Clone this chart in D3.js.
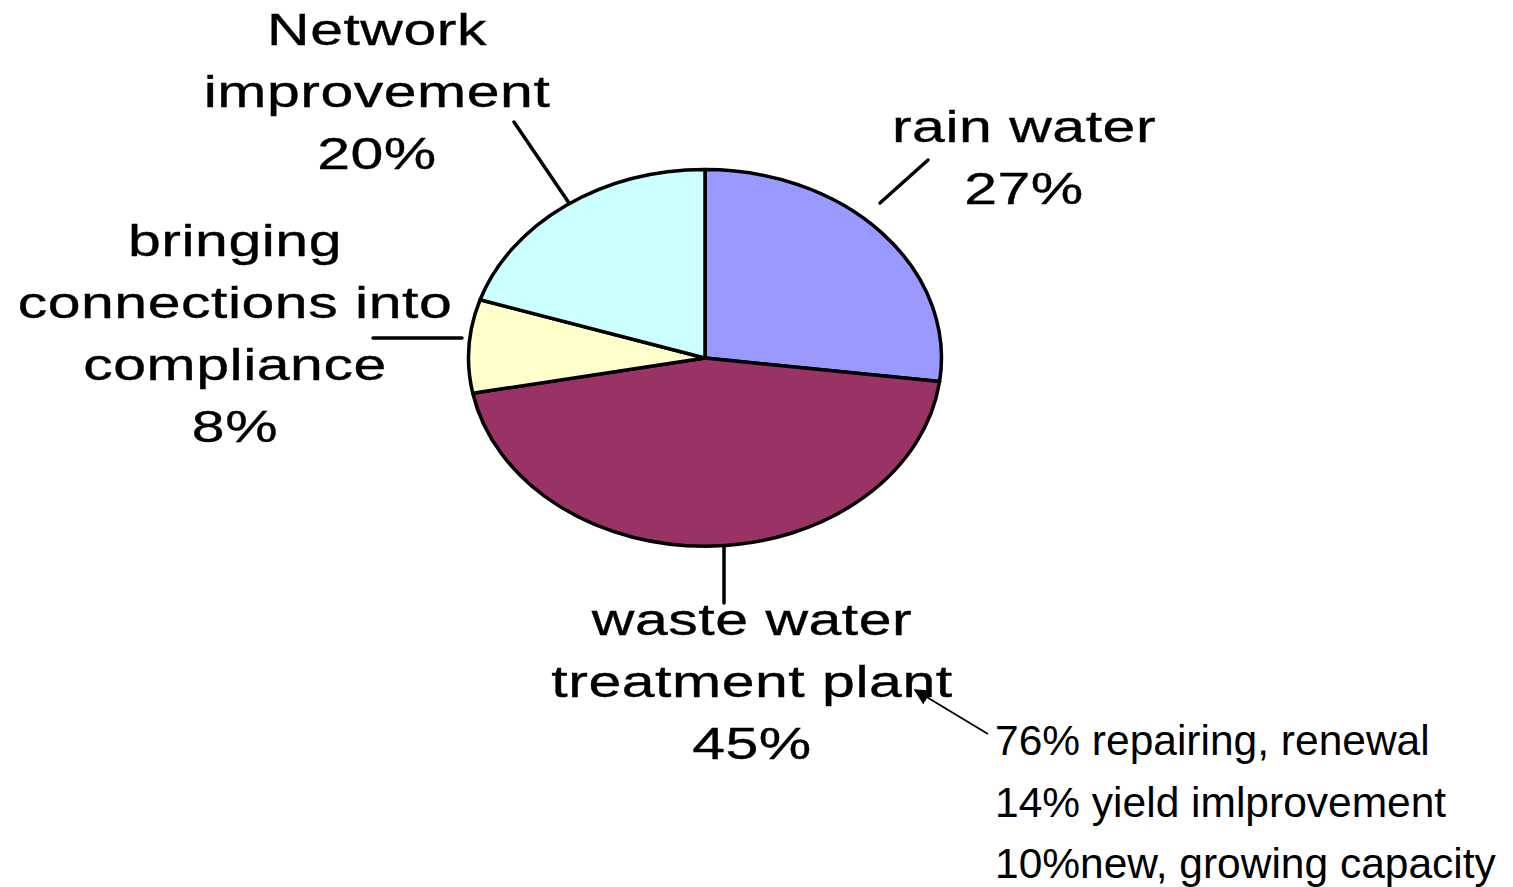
<!DOCTYPE html>
<html>
<head>
<meta charset="utf-8">
<script src="https://cdn.jsdelivr.net/npm/d3@7"></script>
<style>
  body { margin: 0; background: #fff; }
  svg { display: block; }
  text { font-family: "Liberation Sans", Arial, sans-serif; fill: #000; }
</style>
</head>
<body>
<script>
// data
var categories = ["rain water", "waste water treatment plant", "bringing connections into compliance", "Network improvement"]
var values = [27, 45, 8, 20]
var colors = ["#9999FF", "#993366", "#FFFFCC", "#CCFFFF"]
var labelLines = [
  ["rain water", "27%"],
  ["waste water", "treatment plant", "45%"],
  ["bringing", "connections into", "compliance", "8%"],
  ["Network", "improvement", "20%"]
]
var subLabels = ["repairing, renewal", "yield imlprovement", "new, growing capacity"]
var subValues = [76, 14, 10]

// layout
var W = 1513, H = 887
var cx = 705, cy = 358, rx = 236.5, ry = 188.5
var labelPos = [[1024, 142], [752, 635], [235, 256], [377, 45]]
var leaders = [[[928, 160], [880, 203]], [[724, 547], [724, 603]], [[373, 338], [462, 338]], [[514, 122], [569, 203]]]
var rozciag = 1.34

var svg = d3.select("body").append("svg")
  .attr("width", W)
  .attr("height", H)

var defs = svg.append("defs")
defs.append("marker")
  .attr("id", "pijl")
  .attr("viewBox", "0 0 10 10")
  .attr("refX", 9).attr("refY", 5)
  .attr("markerWidth", 9).attr("markerHeight", 9)
  .attr("markerUnits", "strokeWidth")
  .attr("orient", "auto-start-reverse")
  .append("path")
  .attr("d", "M0,0 L10,5 L0,10 z")
  .attr("fill", "#000")

var pie = d3.pie().sort(null).value(function(d){return d})
var arc = d3.arc().innerRadius(0).outerRadius(1)

var taart = svg.append("g")
  .attr("transform", "translate(" + cx + "," + cy + ") scale(" + rx + "," + ry + ")")

taart.selectAll("path").data(pie(values)).enter().append("path")
  .attr("d", arc)
  .attr("fill", function(d, i){return colors[i]})
  .attr("stroke", "#000")
  .attr("stroke-width", 3.5)
  .attr("stroke-linejoin", "round")
  .attr("vector-effect", "non-scaling-stroke")

// leader lines
svg.selectAll("line.leader").data(leaders).enter().append("line")
  .attr("class", "leader")
  .attr("x1", function(d){return d[0][0]})
  .attr("y1", function(d){return d[0][1]})
  .attr("x2", function(d){return d[1][0]})
  .attr("y2", function(d){return d[1][1]})
  .attr("stroke", "#000")
  .attr("stroke-width", 3.5)
  .attr("stroke-linecap", "round")

// labels (stretched horizontally like the original)
var etykiety = svg.selectAll("text.etykieta").data(labelLines).enter().append("text")
  .attr("class", "etykieta")
  .attr("transform", function(d, i){return "translate(" + labelPos[i][0] + "," + labelPos[i][1] + ") scale(" + rozciag + ",1)"})
  .attr("text-anchor", "middle")
  .style("font-size", "44px")
  .style("letter-spacing", "0.4px")
  .style("stroke", "#000")
  .style("stroke-width", "0.35px")

etykiety.selectAll("tspan").data(function(d){return d})
  .enter().append("tspan")
  .attr("x", 0)
  .attr("dy", function(d, j){return j === 0 ? 0 : 62})
  .text(function(d){return d})

// breakdown of waste water
svg.append("line")
  .attr("x1", 988).attr("y1", 734)
  .attr("x2", 915).attr("y2", 690)
  .attr("stroke", "#000")
  .attr("stroke-width", 1.8)
  .attr("marker-end", "url(#pijl)")

var sub = svg.append("text")
  .attr("x", 995)
  .attr("y", 755)
  .style("font-size", "42.5px")

sub.selectAll("tspan").data(subValues).enter().append("tspan")
  .attr("x", 995)
  .attr("dy", function(d, j){return j === 0 ? 0 : 61.5})
  .text(function(d, j){return d + "%" + (j === 2 ? "" : " ") + subLabels[j]})
</script>
</body>
</html>
